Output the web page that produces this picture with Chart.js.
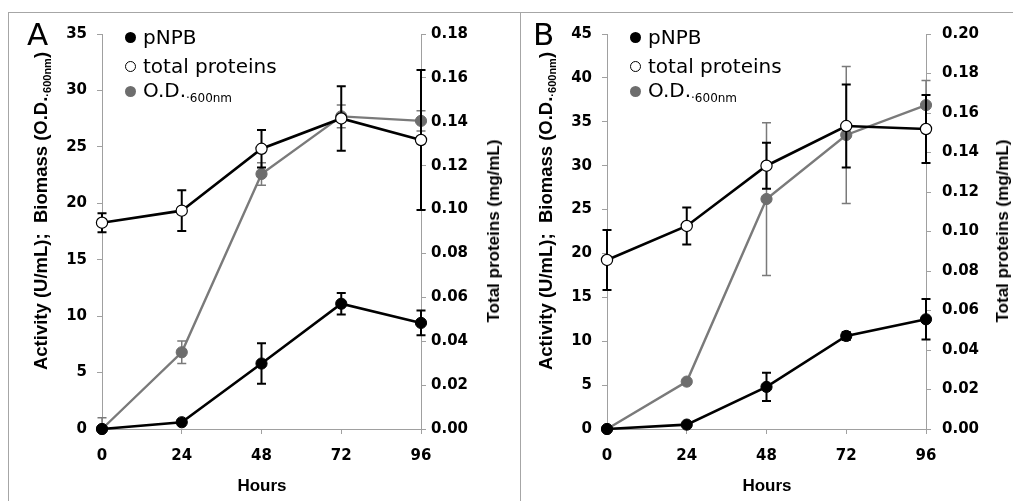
<!DOCTYPE html>
<html>
<head>
<meta charset="utf-8">
<script src="https://cdn.jsdelivr.net/npm/chart.js@4.4.1/dist/chart.umd.min.js"></script>
<style>
  body { margin: 0; background: #fff; }
  #wrap { position: relative; width: 1013px; height: 501px; overflow: hidden; font-family: "DejaVu Sans", sans-serif; color: #000; }
  canvas { position: absolute; top: 0; }
  .line { position: absolute; background: #a6a6a6; }
  .letter { position: absolute; font-size: 31px; line-height: 31px; }
  .title { position: absolute; font-family: "Liberation Sans", Arial, sans-serif; font-weight: bold; white-space: nowrap; transform: translate(-50%, -50%) rotate(-90deg); }
  .xtitle { position: absolute; font-family: "Liberation Sans", Arial, sans-serif; font-weight: bold; font-size: 17px; white-space: nowrap; transform: translate(-50%, -50%); }
  .leg { position: absolute; display: flex; align-items: center; height: 24px; font-size: 20px; white-space: nowrap; }
  .leg i { display: inline-block; width: 11px; height: 11px; border-radius: 50%; margin-right: 7px; box-sizing: border-box; }
  .leg sub { font-size: 12px; vertical-align: -5px; }
  .title sub { font-size: 11px; vertical-align: -4px; }
</style>
</head>
<body>
<div id="wrap">
  <canvas id="chartA" width="505" height="501" style="left:0"></canvas>
  <canvas id="chartB" width="508" height="501" style="left:505px"></canvas>

  <div class="line" style="left:8px;top:12px;width:1005px;height:1px"></div>
  <div class="line" style="left:8px;top:12px;width:1px;height:489px"></div>
  <div class="line" style="left:520px;top:12px;width:1px;height:489px"></div>

  <div class="letter" style="left:27px;top:19px">A</div>
  <div class="letter" style="left:533px;top:19px">B</div>

  <div class="title" style="left:41px;top:211px;font-size:18.5px">Activity (U/mL);&nbsp; Biomass (O.D.<sub>·600nm</sub>)</div>
  <div class="title" style="left:546px;top:211px;font-size:18.5px">Activity (U/mL);&nbsp; Biomass (O.D.<sub>·600nm</sub>)</div>
  <div class="title" style="left:494px;top:231px;font-size:17px">Total proteins (mg/mL)</div>
  <div class="title" style="left:1003px;top:231px;font-size:17px">Total proteins (mg/mL)</div>
  <div class="xtitle" style="left:262px;top:486px">Hours</div>
  <div class="xtitle" style="left:767px;top:486px">Hours</div>

  <div class="leg" style="left:125px;top:25px"><i style="background:#000"></i><span>pNPB</span></div>
  <div class="leg" style="left:125px;top:54px"><i style="background:#fff;border:1px solid #000"></i><span>total proteins</span></div>
  <div class="leg" style="left:125px;top:79px"><i style="background:#6d6d6d"></i><span>O.D.<sub>·600nm</sub></span></div>
  <div class="leg" style="left:630px;top:25px"><i style="background:#000"></i><span>pNPB</span></div>
  <div class="leg" style="left:630px;top:54px"><i style="background:#fff;border:1px solid #000"></i><span>total proteins</span></div>
  <div class="leg" style="left:630px;top:79px"><i style="background:#6d6d6d"></i><span>O.D.<sub>·600nm</sub></span></div>
</div>

<script>
// sampling times (h)
const hours = [0, 24, 48, 72, 96];

// panel A
const pnpbA = [0, 0.6, 5.8, 11.1, 9.4];
const pnpbErrA = [0, 0, 1.8, 0.95, 1.1];
const odA = [0, 6.8, 22.6, 27.7, 27.3];
const odErrA = [1.0, 1.0, 1.0, 1.0, 0.9];
const protA = [0.094, 0.0995, 0.1277, 0.1415, 0.1317];
const protErrA = [0.0043, 0.0093, 0.0085, 0.0147, 0.0319];

// panel B
const pnpbB = [0, 0.5, 4.8, 10.6, 12.5];
const pnpbErrB = [0, 0, 1.6, 0.45, 2.3];
const odB = [0, 5.4, 26.2, 33.5, 36.9];
const odErrB = [0, 0, 8.7, 7.8, 2.8];
const protB = [0.0856, 0.1028, 0.1333, 0.1534, 0.1519];
const protErrB = [0.0152, 0.0094, 0.0117, 0.021, 0.0172];

const axisGray = "#a0a0a0";
const grayLine = "#7a7a7a";
const grayDot = "#6d6d6d";
const tickFont = { family: "DejaVu Sans", weight: "bold", size: 15 };

function pts(vals) {
  return hours.map((h, i) => ({ x: h, y: vals[i] }));
}

// error bars, drawn just under each dataset
const errorBars = {
  id: "errorBars",
  beforeDatasetDraw(chart, args) {
    const ds = chart.data.datasets[args.index];
    if (!ds.errors) return;
    const ctx = chart.ctx;
    const xs = chart.scales.x;
    const ys = chart.scales[ds.yAxisID];
    ctx.save();
    ctx.strokeStyle = ds.errColor;
    ctx.lineWidth = ds.errWidth;
    ds.data.forEach((p, j) => {
      const e = ds.errors[j];
      if (!e) return;
      const x = xs.getPixelForValue(p.x);
      const top = ys.getPixelForValue(Math.min(p.y + e, ys.max));
      const bot = ys.getPixelForValue(Math.max(p.y - e, ys.min));
      ctx.beginPath();
      ctx.moveTo(x, top);
      ctx.lineTo(x, bot);
      ctx.moveTo(x - 4.5, top);
      ctx.lineTo(x + 4.5, top);
      if (p.y - e > ys.min) {
        ctx.moveTo(x - 4.5, bot);
        ctx.lineTo(x + 4.5, bot);
      }
      ctx.stroke();
    });
    ctx.restore();
  }
};

function makeChart(id, d) {
  return new Chart(document.getElementById(id), {
    type: "line",
    data: {
      datasets: [
        {
          label: "total proteins", data: pts(d.prot), yAxisID: "y1",
          borderColor: "#000", borderWidth: 2.6,
          pointRadius: 5.6, pointBackgroundColor: "#fff", pointBorderColor: "#000", pointBorderWidth: 1.2,
          errors: d.protErr, errColor: "#000", errWidth: 2, clip: false
        },
        {
          label: "pNPB", data: pts(d.pnpb), yAxisID: "y",
          borderColor: "#000", borderWidth: 2.6,
          pointRadius: 5.6, pointBackgroundColor: "#000", pointBorderColor: "#000", pointBorderWidth: 1,
          errors: d.pnpbErr, errColor: "#000", errWidth: 2, clip: false
        },
        {
          label: "O.D.600nm", data: pts(d.od), yAxisID: "y",
          borderColor: grayLine, borderWidth: 2.4,
          pointRadius: 5.6, pointBackgroundColor: grayDot, pointBorderColor: grayDot, pointBorderWidth: 1,
          errors: d.odErr, errColor: grayLine, errWidth: 1.5, clip: false
        }
      ]
    },
    options: {
      responsive: false,
      animation: false,
      events: [],
      layout: { padding: { top: 34, left: 0, right: 0, bottom: 0 } },
      plugins: { legend: { display: false }, tooltip: { enabled: false } },
      scales: {
        x: {
          type: "linear", min: 0, max: 96,
          ticks: { stepSize: 24, color: "#000", font: tickFont, padding: 13 },
          grid: { drawOnChartArea: false, tickLength: 5, color: axisGray },
          border: { color: axisGray },
          afterFit(s) { s.height = 72; }
        },
        y: {
          position: "left", min: 0, max: d.leftMax,
          ticks: { stepSize: 5, color: "#000", font: tickFont, padding: 10 },
          grid: { drawOnChartArea: false, tickLength: 5, color: axisGray },
          border: { color: axisGray },
          afterFit(s) { s.width = 102; }
        },
        y1: {
          position: "right", min: 0, max: d.rightMax,
          ticks: { stepSize: 0.02, color: "#000", font: tickFont, padding: d.rightPad, callback: v => v.toFixed(2) },
          grid: { drawOnChartArea: false, tickLength: 5, color: axisGray },
          border: { color: axisGray },
          afterFit(s) { s.width = d.rightWidth; }
        }
      }
    },
    plugins: [errorBars]
  });
}

makeChart("chartA", {
  pnpb: pnpbA, pnpbErr: pnpbErrA, od: odA, odErr: odErrA, prot: protA, protErr: protErrA,
  leftMax: 35, rightMax: 0.18, rightWidth: 84, rightPad: 5
});
makeChart("chartB", {
  pnpb: pnpbB, pnpbErr: pnpbErrB, od: odB, odErr: odErrB, prot: protB, protErr: protErrB,
  leftMax: 45, rightMax: 0.20, rightWidth: 87, rightPad: 11
});
</script>
</body>
</html>
